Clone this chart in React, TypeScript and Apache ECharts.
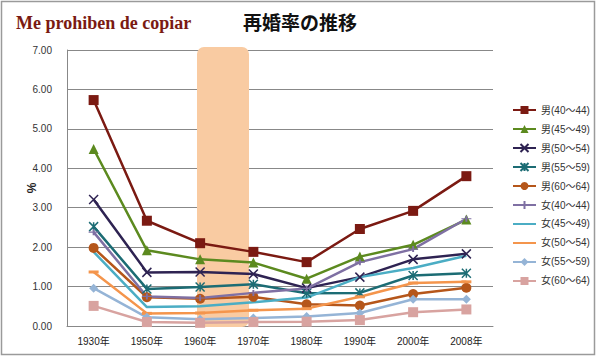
import React, { useEffect, useRef } from "react";
import * as echarts from "echarts";

const categories = ["1930年", "1950年", "1960年", "1970年", "1980年", "1990年", "2000年", "2008年"];

const seriesNames = [
  "男(40～44)", "男(45～49)", "男(50～54)", "男(55～59)", "男(60～64)",
  "女(40～44)", "女(45～49)", "女(50～54)", "女(55～59)", "女(60～64)",
];

const m40 = [5.73, 2.67, 2.1, 1.88, 1.62, 2.46, 2.92, 3.8];
const m45 = [4.49, 1.92, 1.69, 1.61, 1.2, 1.76, 2.06, 2.7];
const m50 = [3.21, 1.36, 1.37, 1.32, 0.96, 1.24, 1.69, 1.83];
const m55 = [2.52, 0.94, 0.99, 1.06, 0.83, 0.84, 1.28, 1.34];
const m60 = [1.98, 0.73, 0.69, 0.74, 0.55, 0.52, 0.81, 0.97];
const f40 = [2.38, 0.75, 0.71, 0.84, 0.95, 1.62, 1.95, 2.72];
const f45 = [1.88, 0.48, 0.5, 0.6, 0.72, 1.24, 1.47, 1.78];
const f50 = [1.37, 0.32, 0.33, 0.4, 0.44, 0.74, 1.09, 1.12];
const f55 = [0.96, 0.22, 0.17, 0.2, 0.24, 0.33, 0.68, 0.68];
const f60 = [0.51, 0.1, 0.08, 0.1, 0.11, 0.15, 0.35, 0.42];

const seriesValues = [m40, m45, m50, m55, m60, f40, f45, f50, f55, f60];

const seriesColors = [
  "#7B1A12", "#5C8A1F", "#2E2352", "#1C6C74", "#B5561A",
  "#7F70A3", "#4BADC4", "#F4954C", "#95B4D6", "#D8A3A0",
];

const seriesSymbols = [
  "rect",
  "triangle",
  "path://M0,0L10,10M10,0L0,10",
  "path://M0,0L10,10M10,0L0,10M5,0L5,10",
  "circle",
  "path://M0,5L10,5M5,3L5,7",
  "none",
  "path://M0,4L10,4L10,6L0,6Z",
  "diamond",
  "rect",
];

const seriesSymbolSizes: (number | number[])[] = [10, 10, 9, 9, 10, [10, 6], 0, [10, 3], 9, 10];

const yMin = 0;
const yMax = 7;
const yInterval = 1;

const FONT = "'Liberation Sans', 'Noto Sans CJK JP', sans-serif";

export default function App() {
  const ref = useRef<HTMLDivElement>(null);

  useEffect(() => {
    if (!ref.current) return;
    const chart = echarts.init(ref.current, undefined, { renderer: "svg" });

    const series = seriesNames.map((name, i) => {
      const isStrokePath = seriesSymbols[i].startsWith("path") && !seriesSymbols[i].endsWith("Z");
      return {
        name,
        type: "line",
        data: seriesValues[i],
        symbol: seriesSymbols[i],
        symbolSize: seriesSymbolSizes[i],
        showSymbol: seriesSymbols[i] !== "none",
        lineStyle: { color: seriesColors[i], width: 2.5 },
        itemStyle: isStrokePath
          ? { color: seriesColors[i], borderColor: seriesColors[i], borderWidth: 1.5 }
          : { color: seriesColors[i] },
      };
    });

    const legendData = seriesNames.map((name, i) =>
      seriesSymbols[i] === "none" || seriesSymbols[i].endsWith("Z")
        ? { name, itemStyle: { opacity: 0 } }
        : { name }
    );

    chart.setOption({
      animation: false,
      backgroundColor: "#ffffff",
      title: {
        text: "再婚率の推移",
        left: "center",
        top: 9,
        textStyle: { fontSize: 19, fontWeight: "bold", color: "#111", fontFamily: FONT },
      },
      graphic: [
        {
          type: "rect",
          z: -10,
          shape: { x: 1.5, y: 1.5, width: 593, height: 353 },
          style: { fill: "none", stroke: "#9a9a9a", lineWidth: 1.5 },
        },
        {
          type: "text",
          x: 16,
          y: 14,
          style: {
            text: "Me prohiben de copiar",
            fill: "#7A1A12",
            font: "bold 18px 'Liberation Serif', serif",
          },
        },
        {
          type: "rect",
          z: 1,
          shape: { x: 197, y: 47, width: 52, height: 280, r: 7 },
          style: { fill: "#F9CBA2" },
        },
      ],
      legend: {
        orient: "vertical",
        left: 507,
        top: 100,
        itemWidth: 23,
        itemHeight: 10,
        itemGap: 9,
        textStyle: { fontSize: 10, color: "#333", fontFamily: FONT },
        data: legendData,
      },
      grid: { left: 67, top: 50, right: 107, bottom: 32 },
      xAxis: {
        type: "category",
        data: categories,
        boundaryGap: true,
        axisLine: { show: true, lineStyle: { color: "#888", width: 1 } },
        axisTick: { show: false },
        axisLabel: { fontSize: 10, color: "#222", fontFamily: FONT, margin: 10 },
      },
      yAxis: {
        type: "value",
        min: yMin,
        max: yMax,
        interval: yInterval,
        name: "%",
        nameLocation: "middle",
        nameRotate: 90,
        nameGap: 29,
        nameMoveOverlap: false,
        nameTextStyle: { fontSize: 12, fontWeight: "bold", color: "#222", fontFamily: FONT },
        axisLine: { show: true, lineStyle: { color: "#888", width: 1 } },
        axisTick: { show: false },
        splitLine: { show: true, lineStyle: { color: "#888", width: 1 } },
        axisLabel: {
          fontSize: 10,
          color: "#333",
          fontFamily: FONT,
          margin: 15,
          formatter: (v: number) => v.toFixed(2),
        },
      },
      series,
    });

    return () => chart.dispose();
  }, []);

  return (
    <div
      ref={ref}
      style={{ position: "fixed", left: 0, top: 0, width: 600, height: 358 }}
    />
  );
}
